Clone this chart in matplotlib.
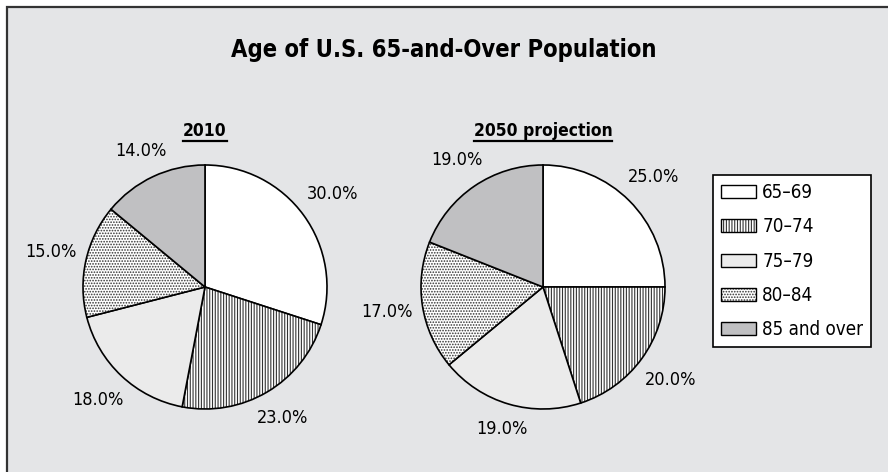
import matplotlib
matplotlib.use('Agg')
import numpy as np
import matplotlib.pyplot as plt
from matplotlib.patches import Patch, Rectangle
from matplotlib.lines import Line2D
from matplotlib.colors import to_rgba

# Chart data
TITLE = 'Age of U.S. 65-and-Over Population'
AGE_GROUPS = ['65–69', '70–74', '75–79', '80–84', '85 and over']
SHARE_2010 = [30.0, 23.0, 18.0, 15.0, 14.0]
SHARE_2050 = [25.0, 20.0, 19.0, 17.0, 19.0]
PIE_TITLES = ['2010', '2050 projection']

# Styling
FILLS = ['#ffffff', '#ffffff', '#ebebeb', '#ffffff', '#c0c0c2']
HATCHES = [None, '||||||', None, '......', None]
HATCH_COLOR = '#333333'
BG = '#e4e5e7'

plt.rcParams['font.family'] = ['DejaVu Sans']
plt.rcParams['font.stretch'] = 'condensed'
plt.rcParams['hatch.linewidth'] = 0.8

W, H = 888, 472
fig = plt.figure(figsize=(W / 100, H / 100), dpi=100)
fig.patch.set_facecolor('white')
ax = fig.add_axes([0, 0, 1, 1])

# pixel positions (top-left origin) of the two pies
PIE_CENTERS = [(205, 287), (543, 287)]
R = 122


def style_patch(p, fill, hatch):
    p.set_facecolor(fill)
    p.set_edgecolor('black')
    if hatch:
        p.set_hatch(hatch)
        p._hatch_color = to_rgba(HATCH_COLOR)


for (cx, cy), values, sub in zip(PIE_CENTERS, [SHARE_2010, SHARE_2050], PIE_TITLES):
    wedges, _ = ax.pie(values, startangle=90, counterclock=False,
                       center=(cx, H - cy), radius=R,
                       wedgeprops=dict(linewidth=1.2))
    for w, fill, hatch, v in zip(wedges, FILLS, HATCHES, values):
        style_patch(w, fill, hatch)
        mid = np.deg2rad((w.theta1 + w.theta2) / 2)
        c, s = np.cos(mid), np.sin(mid)
        dist = R + 10 + 25 * abs(c) + 9 * abs(s)
        ax.text(cx + dist * c, H - cy + dist * s, f'{v:.1f}%',
                ha='center', va='center', fontsize=13)
    ax.text(cx, H - 131, sub, ha='center', va='center', fontsize=12.5,
            fontweight='bold')

ax.set_xlim(0, W)
ax.set_ylim(0, H)
ax.set_aspect('auto')
ax.axis('off')

# grey panel with a dark border (right and bottom edges run off the image)
ax.add_patch(Rectangle((7, -20), W + 20, H - 7 + 20, facecolor=BG,
                       edgecolor='#333333', linewidth=1.6, zorder=0,
                       clip_on=False))

ax.text(W / 2, H - 50, TITLE, ha='center', va='center', fontsize=17,
        fontweight='bold')

handles = []
for fill, hatch in zip(FILLS, HATCHES):
    p = Patch()
    style_patch(p, fill, hatch)
    handles.append(p)
leg = ax.legend(handles, AGE_GROUPS, loc='upper left',
                bbox_to_anchor=(713 / W, 1 - 175 / H),
                bbox_transform=fig.transFigure, borderaxespad=0,
                fontsize=13.5, fancybox=False, framealpha=1,
                edgecolor='black', facecolor='white', borderpad=0.42,
                handlelength=1.85, handleheight=0.7, handletextpad=0.35,
                labelspacing=0.82)
leg.get_frame().set_linewidth(1.2)

# underline the pie subtitles
fig.canvas.draw()
for t in ax.texts:
    if t.get_text() in PIE_TITLES:
        bb = t.get_window_extent()
        ax.add_line(Line2D([bb.x0, bb.x1], [bb.y0 - 1, bb.y0 - 1],
                           color='black', linewidth=1.6))

fig.savefig('out.png', dpi=100, facecolor='white')
